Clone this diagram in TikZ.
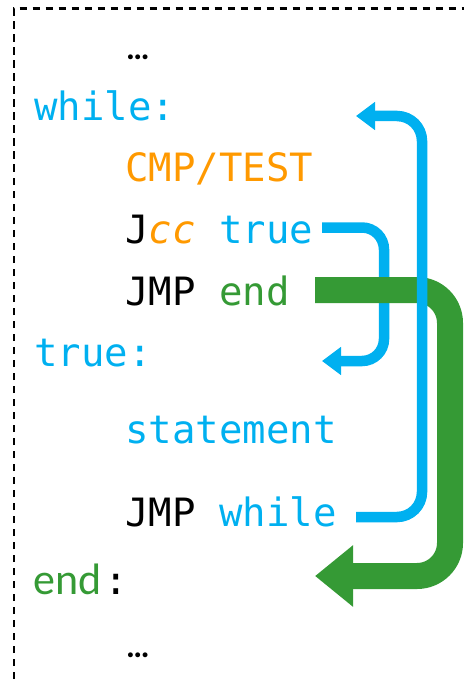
\documentclass[tikz,border=0pt]{standalone}
\usepackage{fontspec}
\usetikzlibrary{arrows.meta}
\newfontfamily\codefont{DejaVu Sans Mono}
\newfontfamily\labelfont{Carlito}
\definecolor{asmblue}{HTML}{00B0F0}
\definecolor{asmorange}{HTML}{FF9900}
\definecolor{asmgreen}{HTML}{359A35}
\tikzset{
  code/.style={anchor=base west, inner sep=0pt, font=\codefont\fontsize{39}{41}\selectfont},
  dots/.style={anchor=base west, inner sep=0pt, font=\labelfont\bfseries\fontsize{33}{35}\selectfont},
  bluejump/.style={draw=asmblue, line width=10.5pt, -{Triangle[length=19pt,width=27pt]}},
  greenjump/.style={draw=asmgreen, line width=26pt, -{Triangle[length=38pt,width=59pt]}},
  frame/.style={line width=2.2pt, dash pattern=on 7.5pt off 5.5pt}
}
\begin{document}
\begin{tikzpicture}[x=1pt,y=-1pt]
\useasboundingbox (0,0) rectangle (464,679);
% dashed frame (top and left edges only)
\draw[frame] (14,679) -- (14,8.5) -- (464,8.5);

% code listing
\node[dots] (dotsA) at (126,60) {…};
\node[code, text=asmblue] (lwhile) at (34,121) {while:};
\node[code, text=asmorange] (cmp) at (125,182) {CMP/TEST};
\node[code] (jcc) at (125,243) {J\textcolor{asmorange}{\itshape cc} \textcolor{asmblue}{true}};
\node[code] (jmpend) at (125,305) {JMP \textcolor{asmgreen}{end}};
\node[code, text=asmblue] (ltrue) at (34,366) {true:};
\node[code, text=asmblue] (stmt) at (125,443) {statement};
\node[code] (jmpwhile) at (125,526) {JMP \textcolor{asmblue}{while}};
\node[anchor=base west, inner sep=0pt] (lend) at (33,594)
  {{\labelfont\fontsize{44}{46}\selectfont\textcolor{asmgreen}{end}}\kern3pt{\codefont\fontsize{39}{41}\selectfont:}};
\node[dots] (dotsB) at (126,657) {…};

% jump end points
\coordinate (jccout) at (322,227.5);
\coordinate (truein) at (322,361);
\coordinate (endout) at (315,290);
\coordinate (endin) at (315,576);
\coordinate (whileout) at (356,517);
\coordinate (whilein) at (356,116);

% conditional jump to true:
\draw[bluejump, rounded corners=22pt] (jccout) -- ++(62,0) |- (truein);
% jump to end:
\draw[greenjump, rounded corners=33pt] (endout) -- ++(135,0) |- (endin);
% loop back to while:
\draw[bluejump, rounded corners=25pt] (whileout) -- ++(66,0) |- (whilein);
\end{tikzpicture}
\end{document}
